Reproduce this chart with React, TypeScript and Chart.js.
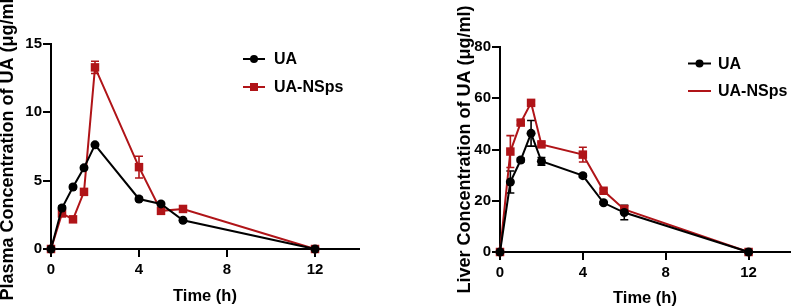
import React, { useEffect, useRef } from "react";
import { Chart, registerables } from "chart.js";

Chart.register(...registerables);

// ---- data ----
const timeH = [0, 0.5, 1, 1.5, 2, 4, 5, 6, 12];
const xTickValues = [0, 4, 8, 12];

const plasmaUA = [0, 3.0, 4.54, 5.94, 7.62, 3.66, 3.3, 2.1, 0];
const plasmaUAErr = [0, 0.15, 0.12, 0.12, 0.1, 0.12, 0.1, 0.1, 0];
const plasmaNSps = [0, 2.6, 2.17, 4.18, 13.29, 5.99, 2.79, 2.93, 0];
const plasmaNSpsErr = [0, 0.15, 0.1, 0.2, 0.45, 0.8, 0.15, 0.1, 0];
const plasmaYTicks = [0, 5, 10, 15];

const liverUA = [0, 27.3, 35.9, 46.3, 35.4, 29.8, 19.2, 15.4, 0];
const liverUAErr = [0, 4.3, 0.8, 5.0, 1.5, 0.6, 0.5, 2.8, 0];
const liverNSps = [0, 39.2, 50.5, 58.2, 42.0, 38.0, 23.9, 16.6, 0];
const liverNSpsErr = [0, 6.2, 0.8, 0.8, 0.8, 2.9, 0.8, 1.5, 0];
const liverYTicks = [0, 20, 40, 60, 80];

const seriesLabels = ["UA", "UA-NSps"];
const BLACK = "#000000";
const RED = "#b01418";
const FONT = "'Liberation Sans', Arial, Helvetica, sans-serif";

const errorBarPlugin = {
  id: "errorBars",
  beforeDatasetsDraw(chart: any) {
    const ctx = chart.ctx;
    const ys = chart.scales.y;
    chart.data.datasets.forEach((ds: any, i: number) => {
      const errs = ds.errors;
      if (!errs) return;
      const meta = chart.getDatasetMeta(i);
      ctx.save();
      ctx.strokeStyle = ds.borderColor;
      ctx.lineWidth = 1.6;
      meta.data.forEach((pt: any, j: number) => {
        const e = errs[j];
        if (!e) return;
        const v = ds.data[j].y;
        const yt = ys.getPixelForValue(v + e);
        const yb = ys.getPixelForValue(v - e);
        const x = pt.x;
        const cw = 4;
        ctx.beginPath();
        ctx.moveTo(x, yt);
        ctx.lineTo(x, yb);
        ctx.moveTo(x - cw, yt);
        ctx.lineTo(x + cw, yt);
        ctx.moveTo(x - cw, yb);
        ctx.lineTo(x + cw, yb);
        ctx.stroke();
      });
      ctx.restore();
    });
  },
};

const legendPlugin = {
  id: "customLegend",
  afterDraw(chart: any, _args: any, opts: any) {
    if (!opts || !opts.items) return;
    const ctx = chart.ctx;
    ctx.save();
    opts.items.forEach((it: any) => {
      ctx.strokeStyle = it.color;
      ctx.fillStyle = it.color;
      ctx.lineWidth = 2;
      ctx.beginPath();
      ctx.moveTo(opts.x0, it.y);
      ctx.lineTo(opts.x1, it.y);
      ctx.stroke();
      const mx = (opts.x0 + opts.x1) / 2;
      if (it.marker === "circle") {
        ctx.beginPath();
        ctx.arc(mx, it.y, 4, 0, Math.PI * 2);
        ctx.fill();
      } else if (it.marker === "rect") {
        ctx.fillRect(mx - 4, it.y - 4, 8, 8);
      }
      ctx.fillStyle = "#000";
      ctx.font = `bold 16px ${FONT}`;
      ctx.textAlign = "left";
      ctx.textBaseline = "middle";
      ctx.fillText(it.label, opts.textX, it.y + 1);
    });
    ctx.restore();
  },
};

function makeConfig(p: any) {
  const mk = (vals: number[], errs: number[], label: string, color: string, style: string, r: number) => ({
    label,
    data: timeH.map((t, i) => ({ x: t, y: vals[i] })),
    errors: errs,
    borderColor: color,
    backgroundColor: color,
    borderWidth: 2,
    pointStyle: style,
    pointRadius: r,
    pointHoverRadius: r,
    pointBorderWidth: 0,
    pointBackgroundColor: color,
    tension: 0,
    clip: false,
  });
  return {
    type: "line",
    data: {
      datasets: [
        mk(p.ua, p.uaErr, seriesLabels[0], BLACK, "circle", 4.5),
        mk(p.ns, p.nsErr, seriesLabels[1], RED, "rect", 6),
      ],
    },
    plugins: [errorBarPlugin, legendPlugin],
    options: {
      responsive: false,
      animation: false,
      events: [],
      layout: { padding: p.padding },
      plugins: {
        legend: { display: false },
        tooltip: { enabled: false },
        customLegend: p.legend,
      },
      scales: {
        x: {
          type: "linear",
          min: 0,
          max: 14,
          afterBuildTicks: (s: any) => {
            s.ticks = xTickValues.map((v) => ({ value: v }));
          },
          afterFit: (s: any) => {
            s.height = p.xHeight;
          },
          grid: { drawOnChartArea: false, drawTicks: true, tickLength: 8, color: "#000", lineWidth: 2 },
          border: { display: true, color: "#000", width: 2 },
          ticks: { color: "#000", font: { family: FONT, size: 15, weight: "bold" }, padding: 4, maxRotation: 0 },
          title: {
            display: true,
            text: "Time (h)",
            color: "#000",
            font: { family: FONT, size: 16.5, weight: "bold", lineHeight: 1 },
            padding: { top: 0, bottom: p.xTitlePad },
          },
        },
        y: {
          type: "linear",
          min: 0,
          max: p.yMax,
          afterBuildTicks: (s: any) => {
            s.ticks = p.yTicks.map((v: number) => ({ value: v }));
          },
          afterFit: (s: any) => {
            s.width = p.yWidth;
          },
          grid: { drawOnChartArea: false, drawTicks: true, tickLength: 8, color: "#000", lineWidth: 2 },
          border: { display: true, color: "#000", width: 2 },
          ticks: { color: "#000", font: { family: FONT, size: 15, weight: "bold" }, padding: 1 },
          title: {
            display: true,
            text: p.yTitle,
            color: "#000",
            font: { family: FONT, size: 18, weight: "bold", lineHeight: 1 },
            padding: { top: -1, bottom: 0 },
          },
        },
      },
    },
  };
}

function Panel({ left, width, params }: any) {
  const ref = useRef<HTMLCanvasElement>(null);
  useEffect(() => {
    if (!ref.current) return;
    const chart = new Chart(ref.current, makeConfig(params) as any);
    return () => chart.destroy();
  }, []);
  return (
    <canvas
      ref={ref}
      width={width}
      height={308}
      style={{ position: "absolute", left, top: 0, width, height: 308 }}
    />
  );
}

const plasmaParams = {
  ua: plasmaUA,
  uaErr: plasmaUAErr,
  ns: plasmaNSps,
  nsErr: plasmaNSpsErr,
  yMax: 15,
  yTicks: plasmaYTicks,
  yTitle: "Plasma Concentration of UA (μg/ml)",
  padding: { left: 0, top: 44, right: 41, bottom: 0 },
  yWidth: 51,
  xHeight: 59,
  xTitlePad: 3,
  legend: {
    x0: 243,
    x1: 265,
    textX: 274,
    items: [
      { label: seriesLabels[0], color: BLACK, marker: "circle", y: 59 },
      { label: seriesLabels[1], color: RED, marker: "rect", y: 87 },
    ],
  },
};

const liverParams = {
  ua: liverUA,
  uaErr: liverUAErr,
  ns: liverNSps,
  nsErr: liverNSpsErr,
  yMax: 80,
  yTicks: liverYTicks,
  yTitle: "Liver Concentration of UA (μg/ml)",
  padding: { left: 57, top: 47, right: 4, bottom: 0 },
  yWidth: 43,
  xHeight: 56,
  xTitlePad: 1,
  legend: {
    x0: 288,
    x1: 311,
    textX: 318,
    items: [
      { label: seriesLabels[0], color: BLACK, marker: "circle", y: 63.5 },
      { label: seriesLabels[1], color: RED, marker: null, y: 91 },
    ],
  },
};

export default function App() {
  return (
    <div style={{ position: "fixed", left: 0, top: 0, width: 796, height: 308, background: "#fff", overflow: "hidden" }}>
      <Panel left={0} width={400} params={plasmaParams} />
      <Panel left={400} width={396} params={liverParams} />
    </div>
  );
}
